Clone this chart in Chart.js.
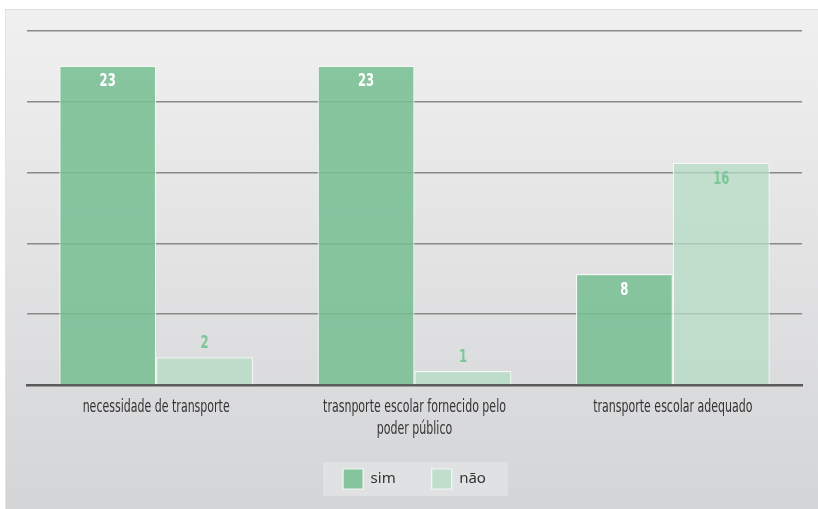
<!DOCTYPE html>
<html>
<head>
<meta charset="utf-8">
<script src="https://cdn.jsdelivr.net/npm/chart.js@4.4.1/dist/chart.umd.min.js"></script>
<style>
    html, body { margin: 0; padding: 0; background: #ffffff; }
    #card {
        position: absolute; left: 5px; top: 9px; width: 813px; height: 500px;
        border-top: 1px solid #dcdcdc; border-left: 1px solid #e4e4e4;
        background: linear-gradient(#f0f0f0, #d4d5d7);
        box-sizing: border-box;
    }
    #wrap { position: absolute; left: 0; top: 0; width: 818px; height: 509px; }
</style>
</head>
<body>
<div id="card"></div>
<div id="wrap"><canvas id="myChart" width="818" height="509"></canvas></div>
<script>
// categories and values
const categories = [
    'necessidade de transporte',
    ['trasnporte escolar fornecido pelo', 'poder público'],
    'transporte escolar adequado'
];
const simValues = [23, 23, 8];
const naoValues = [2, 1, 16];
const seriesNames = ['sim', 'não'];

const condensed = '"DejaVu Sans Condensed", "DejaVu Sans", sans-serif';

// narrow text: squeeze a normal font horizontally
function narrowText(ctx, text, x, y, squeeze) {
    ctx.save();
    ctx.translate(x, y);
    ctx.scale(squeeze, 1);
    ctx.fillText(text, 0, 0);
    ctx.restore();
}

// draws the numbers at the top of each bar
const barLabels = {
    id: 'barLabels',
    afterDatasetsDraw(chart) {
        const ctx = chart.ctx;
        ctx.save();
        ctx.font = 'bold 18px ' + condensed;
        ctx.textAlign = 'center';
        ctx.textBaseline = 'middle';
        chart.data.datasets.forEach((ds, i) => {
            chart.getDatasetMeta(i).data.forEach((bar, j) => {
                const h = bar.base - bar.y;
                let y = bar.y + 16;
                let color = i === 0 ? '#ffffff' : '#7cc698';
                if (h < 30) {
                    y = bar.y - 14;
                    color = '#7cc698';
                }
                ctx.fillStyle = color;
                narrowText(ctx, String(ds.data[j]), bar.x, y, 0.72);
            });
        });
        ctx.restore();
    }
};

// category names under the axis, in a narrow face
const categoryLabels = {
    id: 'categoryLabels',
    afterDraw(chart) {
        const ctx = chart.ctx;
        const xs = chart.scales.x;
        ctx.save();
        ctx.font = '17px ' + condensed;
        ctx.fillStyle = '#333333';
        ctx.textAlign = 'center';
        ctx.textBaseline = 'middle';
        chart.data.labels.forEach((label, i) => {
            const lines = Array.isArray(label) ? label : [label];
            const x = xs.getPixelForTick(i);
            lines.forEach((line, k) => {
                narrowText(ctx, line, x, chart.chartArea.bottom + 23 + k * 21.5, 0.72);
            });
        });
        ctx.restore();
    }
};

// light box behind the legend
const legendBox = {
    id: 'legendBox',
    beforeDraw(chart) {
        const lg = chart.legend;
        if (!lg || !lg.legendHitBoxes || !lg.legendHitBoxes.length) return;
        const boxes = lg.legendHitBoxes;
        const first = boxes[0];
        const last = boxes[boxes.length - 1];
        const ctx = chart.ctx;
        ctx.save();
        ctx.fillStyle = '#e0e1e2';
        ctx.fillRect(first.left - 20, first.top - 7, (last.left + last.width) - first.left + 42, first.height + 14);
        ctx.restore();
    }
};

const config = {
    type: 'bar',
    data: {
        labels: categories,
        datasets: [
            {
                label: seriesNames[0],
                data: simValues,
                backgroundColor: 'rgba(116, 190, 144, 0.85)',
                borderColor: '#f4f7f5',
                borderWidth: 1.2
            },
            {
                label: seriesNames[1],
                data: naoValues,
                backgroundColor: 'rgba(180, 220, 195, 0.75)',
                borderColor: '#f4f7f5',
                borderWidth: 1.2
            }
        ]
    },
    options: {
        responsive: false,
        animation: false,
        datasets: {
            bar: { categoryPercentage: 0.75, barPercentage: 1.0 }
        },
        layout: {
            padding: { left: 27, right: 16, top: 31, bottom: 10 }
        },
        scales: {
            x: {
                grid: { display: false },
                border: { color: '#5a5a5a', width: 2.5 },
                ticks: {
                    // space is kept here, the text itself is drawn by categoryLabels
                    color: 'rgba(0,0,0,0)',
                    font: { family: condensed, size: 15, lineHeight: 1.0 },
                    padding: 5,
                    maxRotation: 0
                }
            },
            y: {
                min: 0,
                max: 25.5,
                ticks: { display: false, stepSize: 5.1 },
                border: { display: false },
                grid: { color: '#8a8a8a', lineWidth: 1.6, drawTicks: false }
            }
        },
        plugins: {
            legend: {
                position: 'bottom',
                labels: {
                    color: '#333333',
                    font: { family: '"Noto Sans", sans-serif', size: 15 },
                    boxWidth: 20,
                    boxHeight: 20,
                    padding: 36
                }
            },
            tooltip: { enabled: false }
        }
    },
    plugins: [legendBox, barLabels, categoryLabels]
};

const ctx = document.getElementById('myChart').getContext('2d');
new Chart(ctx, config);
</script>
</body>
</html>
